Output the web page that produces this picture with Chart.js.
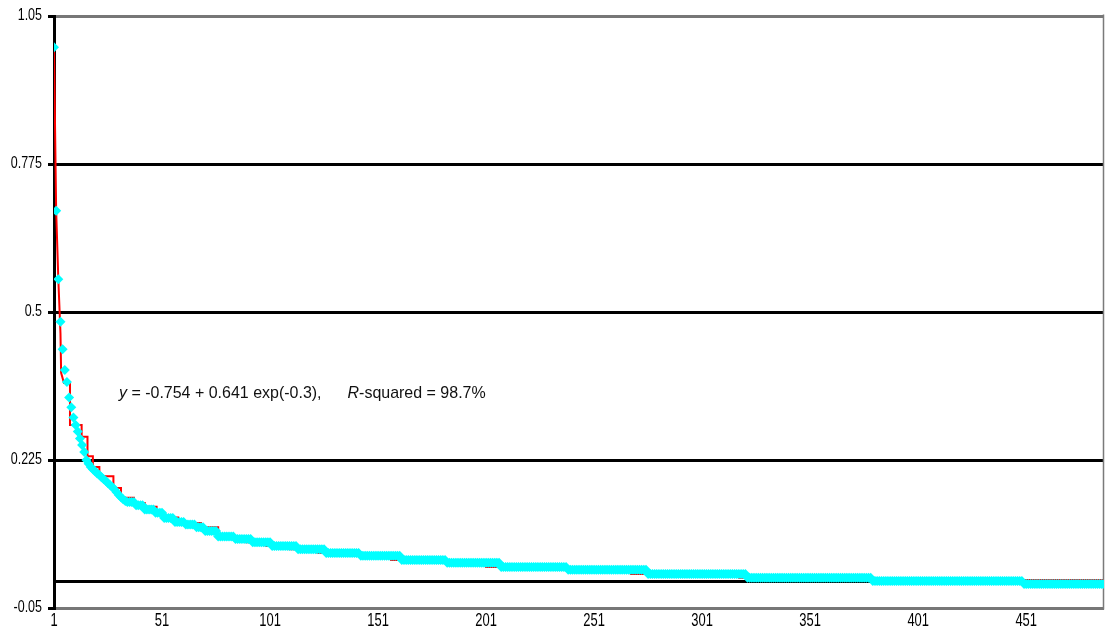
<!DOCTYPE html>
<html>
<head>
<meta charset="utf-8">
<script src="https://cdn.jsdelivr.net/npm/chart.js@4.4.1/dist/chart.umd.min.js"></script>
<style>
  html, body { margin: 0; padding: 0; background: #ffffff; }
  #wrap { width: 1105px; height: 628px; }
</style>
</head>
<body>
<div id="wrap"><canvas id="decay" width="1105" height="628"></canvas></div>
<script>
const SANS = "'Liberation Sans', Arial, Helvetica, sans-serif";

// Fitted values for observations 1..34, one per observation
const headValues = [0.992, 0.688, 0.561, 0.482, 0.431, 0.392, 0.370, 0.341, 0.323, 0.304,
                    0.290, 0.278, 0.265, 0.253, 0.240, 0.225, 0.218, 0.212, 0.208, 0.204,
                    0.200, 0.197, 0.193, 0.189, 0.186, 0.182, 0.178, 0.175, 0.170, 0.165,
                    0.160, 0.156, 0.152, 0.149];

// From observation 35 on the fitted values sit on plateaus:
// first observation of each plateau and the plateau value
const plateauStarts = [35, 39, 43, 48, 52, 57, 62, 67, 71, 77, 85, 93, 102, 114, 127, 143,
                       162, 183, 208, 239, 276, 322, 380, 450];
const plateauValues = [0.147, 0.141, 0.133, 0.127, 0.117, 0.110, 0.105, 0.100, 0.093, 0.083,
                       0.078, 0.072, 0.065, 0.059, 0.052, 0.047, 0.039, 0.034, 0.026, 0.021,
                       0.013, 0.0062, 0.0002, -0.0054];
const lastObservation = 487;

// Observed step curve (vertices of the red line)
const observedX = [1, 2, 3, 4, 4.3, 5.6, 8.4, 8.4, 13.8, 13.8, 16.5, 16.5, 19, 19, 22, 22,
                   28.5, 28.5, 32, 32, 38, 38, 43, 43, 48.5, 48.5, 52, 52, 58.5, 58.5, 69, 69,
                   77, 77, 82, 82, 90, 90, 99, 99, 110, 110, 123, 123, 139, 139, 157, 157,
                   177, 177, 201, 201, 230, 230, 268, 268, 318, 318, 377, 377, 487];
const observedY = [0.992, 0.688, 0.561, 0.46, 0.387, 0.368, 0.368, 0.290, 0.290, 0.268, 0.268, 0.232,
                   0.232, 0.212, 0.212, 0.195, 0.195, 0.173, 0.173, 0.155, 0.155, 0.145, 0.145, 0.138,
                   0.138, 0.128, 0.128, 0.118, 0.118, 0.108, 0.108, 0.100, 0.100, 0.083, 0.083, 0.078,
                   0.078, 0.072, 0.072, 0.065, 0.065, 0.059, 0.059, 0.052, 0.052, 0.047, 0.047, 0.039,
                   0.039, 0.034, 0.034, 0.026, 0.026, 0.021, 0.021, 0.013, 0.013, 0.0062, 0.0062, 0.002,
                   0.002];

const yTickValues = [-0.05, 0, 0.225, 0.5, 0.775, 1.05];
const xTickValues = [1, 51, 101, 151, 201, 251, 301, 351, 401, 451];

const fitText = {
  lhs: 'y',
  formula: ' = -0.754 + 0.641 exp(-0.3),',
  rLetter: 'R',
  rest: '-squared = 98.7%'
};

// expand the plateau table into one point per observation
const fittedPoints = headValues.map((v, i) => ({ x: i + 1, y: v }));
plateauStarts.forEach((start, k) => {
  const end = k + 1 < plateauStarts.length ? plateauStarts[k + 1] - 1 : lastObservation;
  for (let i = start; i <= end; i++) fittedPoints.push({ x: i, y: plateauValues[k] });
});
const observedPoints = observedX.map((x, i) => ({ x: x, y: observedY[i] }));

// Condensed lettering: text at these pixel sizes is squeezed horizontally
const squeezeBySize = { 16: 0.78, 17: 0.94, 18: 0.72 };
const canvas = document.getElementById('decay');
const ctx2d = canvas.getContext('2d');
const nativeFillText = CanvasRenderingContext2D.prototype.fillText;
function squeezeFor(font) {
  const m = /(\d+(?:\.\d+)?)px/.exec(font);
  return m ? squeezeBySize[Math.round(parseFloat(m[1]))] : undefined;
}
ctx2d.fillText = function (text, x, y, maxWidth) {
  const k = squeezeFor(this.font);
  if (!k) {
    return maxWidth === undefined ? nativeFillText.call(this, text, x, y)
                                  : nativeFillText.call(this, text, x, y, maxWidth);
  }
  this.save();
  this.translate(x, y);
  this.scale(k, 1);
  nativeFillText.call(this, text, 0, 0);
  this.restore();
};

// right-hand frame edge of the plot area
const plotFrame = {
  id: 'plotFrame',
  beforeDatasetsDraw(chart) {
    const { ctx, chartArea: a } = chart;
    ctx.save();
    ctx.strokeStyle = '#7a7a7a';
    ctx.lineWidth = 1.5;
    ctx.beginPath();
    ctx.moveTo(a.right - 0.5, a.top - 1.5);
    ctx.lineTo(a.right - 0.5, a.bottom + 1.5);
    ctx.stroke();
    ctx.restore();
  }
};

// fitted-equation caption inside the plot
const fitCaption = {
  id: 'fitCaption',
  afterDatasetsDraw(chart) {
    const { ctx, chartArea: a } = chart;
    const size = 17;
    const regular = size + 'px ' + SANS;
    const italic = 'italic ' + size + 'px ' + SANS;
    let x = a.left + 65;
    const y = a.top + 377;
    const put = (s, font) => {
      ctx.font = font;
      ctx.fillText(s, x, y);
      x += ctx.measureText(s).width * (squeezeFor(ctx.font) || 1);
    };
    ctx.save();
    ctx.fillStyle = '#111111';
    ctx.textBaseline = 'middle';
    ctx.textAlign = 'left';
    put(fitText.lhs, italic);
    put(fitText.formula, regular);
    x += 26;
    put(fitText.rLetter, italic);
    put(fitText.rest, regular);
    ctx.restore();
  }
};

new Chart(canvas, {
  type: 'line',
  data: {
    datasets: [
      {
        label: 'fitted',
        data: fittedPoints,
        showLine: false,
        pointStyle: 'rectRot',
        pointRadius: 5,
        pointBorderWidth: 0,
        pointBackgroundColor: '#00ffff',
        pointBorderColor: '#00ffff'
      },
      {
        label: 'observed',
        data: observedPoints,
        borderColor: '#ff0000',
        borderWidth: 2,
        pointRadius: 0,
        tension: 0,
        fill: false
      }
    ]
  },
  options: {
    responsive: false,
    animation: false,
    events: [],
    layout: { autoPadding: false, padding: { top: 16, right: 1, left: 0, bottom: 0 } },
    plugins: { legend: { display: false }, tooltip: { enabled: false } },
    scales: {
      x: {
        type: 'linear',
        min: 1,
        max: lastObservation,
        afterBuildTicks: s => { s.ticks = xTickValues.map(v => ({ value: v })); },
        afterFit: s => { s.height = 20; },
        grid: { display: false, drawTicks: false },
        border: { display: false },
        ticks: {
          autoSkip: false,
          maxRotation: 0,
          padding: 2,
          color: '#000000',
          font: { family: SANS, size: 18 },
          callback: v => String(v)
        }
      },
      y: {
        min: -0.05,
        max: 1.05,
        afterBuildTicks: s => { s.ticks = yTickValues.map(v => ({ value: v })); },
        afterFit: s => { s.width = 54; },
        grid: {
          lineWidth: 3,
          tickLength: 6,
          tickWidth: 3,
          color: c => (c.tick && (c.tick.value === -0.05 || c.tick.value === 1.05)) ? '#777777' : '#000000',
          tickColor: c => (c.tick && c.tick.value === 0) ? 'rgba(0,0,0,0)' : '#000000'
        },
        border: { display: true, color: '#000000', width: 3 },
        ticks: {
          padding: 6,
          color: '#000000',
          font: { family: SANS, size: 16 },
          callback: v => (v === 0 ? '' : String(v))
        }
      }
    }
  },
  plugins: [plotFrame, fitCaption]
});
</script>
</body>
</html>
